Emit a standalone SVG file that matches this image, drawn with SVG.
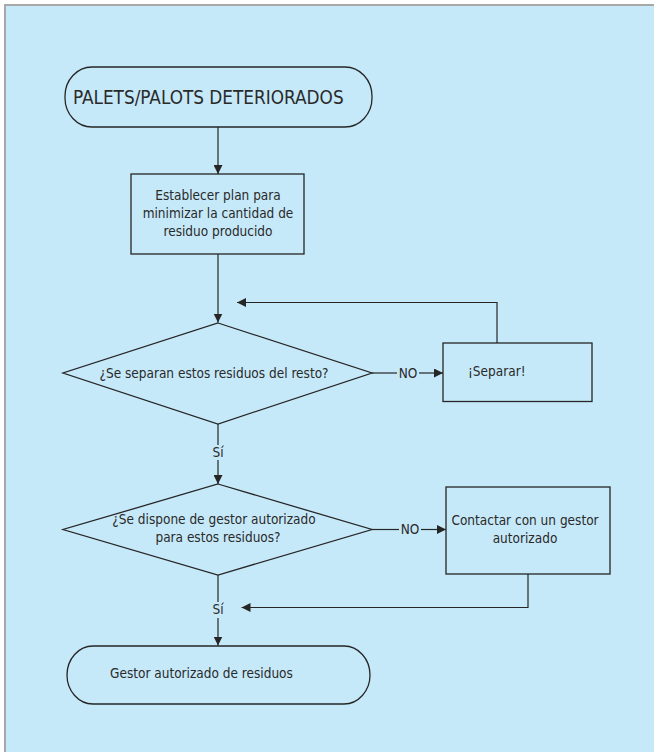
<svg xmlns="http://www.w3.org/2000/svg" width="654" height="752" viewBox="0 0 654 752">
  <style>
    .shape { fill: none; stroke: #262626; stroke-width: 1.3; }
    .wire { fill: none; stroke: #262626; stroke-width: 1.2; }
    text { font-family: "DejaVu Sans Condensed", "DejaVu Sans", sans-serif; font-size: 13.5px; fill: #2a2a2a; }
    .mid { text-anchor: middle; }
    .title { font-size: 18.8px; }
  </style>
  <defs>
    <marker id="arrow" viewBox="0 0 10 10" refX="10" refY="5" markerWidth="9" markerHeight="9" markerUnits="userSpaceOnUse" orient="auto">
      <path d="M0,0 L10,5 L0,10 Z" fill="#262626"/>
    </marker>
  </defs>

  <!-- page background with grey frame on top and left -->
  <rect x="0" y="0" width="654" height="752" fill="#ffffff"/>
  <rect x="5" y="5" width="649" height="747" fill="#c6e9f9"/>
  <path d="M5,752 L5,5 L654,5" fill="none" stroke="#a8a8a8" stroke-width="2"/>

  <!-- connectors -->
  <g id="connectors">
    <line class="wire" x1="218" y1="127" x2="218" y2="174" marker-end="url(#arrow)"/>
    <line class="wire" x1="218" y1="254" x2="218" y2="322.5" marker-end="url(#arrow)"/>
    <!-- NO branch 1 -->
    <line class="wire" x1="372" y1="373" x2="397" y2="373"/>
    <text x="408" y="377.5" class="mid">NO</text>
    <line class="wire" x1="419" y1="373" x2="443" y2="373" marker-end="url(#arrow)"/>
    <!-- loop back from Separar -->
    <polyline class="wire" points="497,343 497,302.5 237,302.5" marker-end="url(#arrow)"/>
    <!-- Sí 1 -->
    <line class="wire" x1="218" y1="424" x2="218" y2="445"/>
    <text x="218" y="456.5" class="mid">Sí</text>
    <line class="wire" x1="218" y1="460" x2="218" y2="484" marker-end="url(#arrow)"/>
    <!-- NO branch 2 -->
    <line class="wire" x1="372" y1="529.5" x2="399" y2="529.5"/>
    <text x="410" y="534" class="mid">NO</text>
    <line class="wire" x1="421" y1="529.5" x2="446" y2="529.5" marker-end="url(#arrow)"/>
    <!-- return from Contactar -->
    <polyline class="wire" points="528,574 528,607.5 241.5,607.5" marker-end="url(#arrow)"/>
    <!-- Sí 2 -->
    <line class="wire" x1="218" y1="575" x2="218" y2="602"/>
    <text x="218" y="613.5" class="mid">Sí</text>
    <line class="wire" x1="218" y1="618" x2="218" y2="645.5" marker-end="url(#arrow)"/>
  </g>

  <g id="start">
    <rect class="shape" x="65" y="67" width="307" height="60" rx="27" ry="29"/>
    <text x="73" y="103.5" class="title">PALETS/PALOTS DETERIORADOS</text>
  </g>

  <g id="plan">
    <rect class="shape" x="131" y="174" width="173" height="80"/>
    <text x="218" y="200" class="mid">Establecer plan para</text>
    <text x="218" y="218" class="mid">minimizar la cantidad de</text>
    <text x="218" y="236" class="mid">residuo producido</text>
  </g>

  <g id="separa">
    <polygon class="shape" points="218,323 372,373 218,424 63,373"/>
    <text x="214" y="377.5" class="mid">¿Se separan estos residuos del resto?</text>
  </g>

  <g id="separar">
    <rect class="shape" x="443" y="343" width="149" height="58.5"/>
    <text x="468" y="375.5">¡Separar!</text>
  </g>

  <g id="gestor-disponible">
    <polygon class="shape" points="218,484 372,529.5 218,575 63,529.5"/>
    <text x="214" y="524" class="mid">¿Se dispone de gestor autorizado</text>
    <text x="218" y="542" class="mid">para estos residuos?</text>
  </g>

  <g id="contactar">
    <rect class="shape" x="446" y="487" width="164" height="87"/>
    <text x="525" y="524.5" class="mid">Contactar con un gestor</text>
    <text x="525" y="542.5" class="mid">autorizado</text>
  </g>

  <g id="fin">
    <rect class="shape" x="67" y="646" width="303" height="58" rx="26" ry="29"/>
    <text x="110" y="677.5">Gestor autorizado de residuos</text>
  </g>
</svg>
